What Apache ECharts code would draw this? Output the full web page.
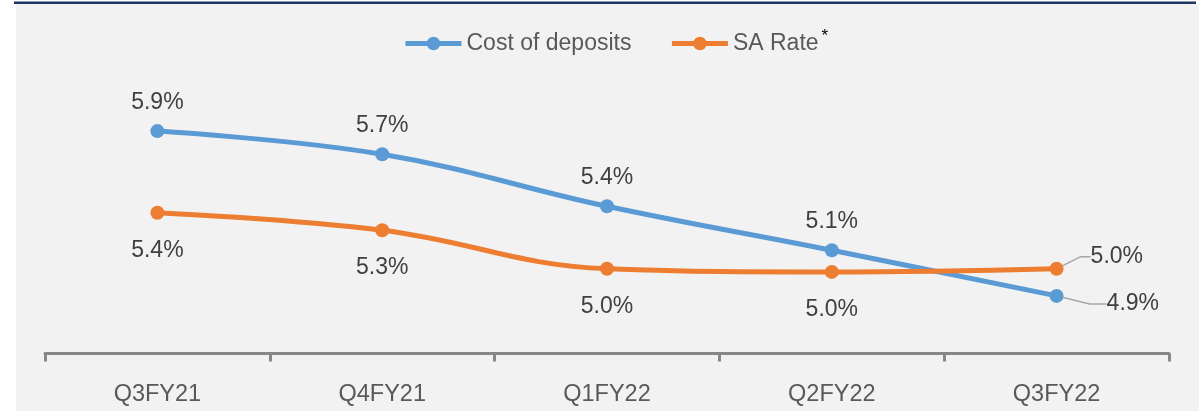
<!DOCTYPE html>
<html>
<head>
<meta charset="utf-8">
<script src="https://cdn.jsdelivr.net/npm/echarts@6/dist/echarts.min.js"></script>
<style>
  html, body { margin: 0; padding: 0; background: #ffffff; }
  #deposit-chart { width: 1199px; height: 411px; }
</style>
</head>
<body>
<div id="deposit-chart"></div>
<script>
// quarters on the x axis
var quarters = ['Q3FY21', 'Q4FY21', 'Q1FY22', 'Q2FY22', 'Q3FY22'];
// % values (labels show one decimal)
var costOfDeposits = [5.89, 5.745, 5.42, 5.145, 4.86];
var saRate = [5.38, 5.27, 5.03, 5.01, 5.03];

var FONT = 'Liberation Sans, Arial, sans-serif';
var lastIdx = quarters.length - 1;

var chart = echarts.init(document.getElementById('deposit-chart'));

function pct(p) {
  return p.value.toFixed(1) + '%';
}

// only the last point gets a leader line to its label
function withLeader(values) {
  return values.map(function (v, i) {
    return { value: v, labelLine: { show: i === lastIdx } };
  });
}

chart.setOption({
  animation: false,
  backgroundColor: '#ffffff',
  graphic: [
    { type: 'rect', z: -10, shape: { x: 16, y: 4, width: 1183, height: 407 }, style: { fill: '#f2f2f2' } },
    { type: 'rect', z: -9, shape: { x: 14, y: 1.5, width: 1182, height: 2.5 }, style: { fill: '#1f3864' } }
  ],
  legend: {
    data: ['Cost of deposits', 'SA Rate'],
    left: 398,
    top: 23,
    itemWidth: 56,
    itemHeight: 17,
    itemGap: 38,
    lineStyle: { width: 5 },
    formatter: function (name) {
      return name === 'SA Rate' ? '{t|SA Rate}{s|*}' : '{t|' + name + '}';
    },
    textStyle: {
      rich: {
        t: { fontFamily: FONT, fontSize: 23, color: '#595959' },
        s: { fontFamily: FONT, fontSize: 17, color: '#000000', verticalAlign: 'top', padding: [0, 0, 14, 3] }
      }
    }
  },
  grid: {
    left: 45,
    right: 30,
    top: 33.5,
    bottom: 57.5
  },
  xAxis: {
    type: 'category',
    data: quarters,
    boundaryGap: true,
    axisLine: { lineStyle: { color: '#878787', width: 3 } },
    axisTick: { show: true, length: 8, lineStyle: { color: '#878787', width: 3 } },
    axisLabel: { margin: 29, fontFamily: FONT, fontSize: 23.5, color: '#595959' }
  },
  yAxis: {
    type: 'value',
    min: 4.5,
    max: 6.5,
    show: false,
    splitLine: { show: false }
  },
  series: [
    {
      name: 'Cost of deposits',
      type: 'line',
      data: withLeader(costOfDeposits),
      smooth: 0.4,
      symbol: 'circle',
      symbolSize: 14,
      itemStyle: { color: '#5b9bd5' },
      lineStyle: { color: '#5b9bd5', width: 5 },
      label: {
        show: true,
        position: 'top',
        distance: 10,
        padding: [0, 8],
        formatter: pct,
        fontFamily: FONT,
        fontSize: 23,
        color: '#404040'
      },
      labelLine: { length2: 17, lineStyle: { color: '#a6a6a6', width: 1.5 } },
      labelLayout: function (p) {
        if (p.dataIndex !== lastIdx) return {};
        var cx = p.rect.x + p.rect.width / 2;
        var cy = p.rect.y + p.rect.height / 2;
        return { x: cx + 42, y: cy + 8, align: 'left', verticalAlign: 'middle' };
      }
    },
    {
      name: 'SA Rate',
      type: 'line',
      data: withLeader(saRate),
      smooth: 0.4,
      symbol: 'circle',
      symbolSize: 14,
      itemStyle: { color: '#ed7d31' },
      lineStyle: { color: '#ed7d31', width: 5 },
      label: {
        show: true,
        position: 'bottom',
        distance: 19,
        padding: [0, 8],
        formatter: pct,
        fontFamily: FONT,
        fontSize: 23,
        color: '#404040'
      },
      labelLine: { length2: 10, lineStyle: { color: '#a6a6a6', width: 1.5 } },
      labelLayout: function (p) {
        if (p.dataIndex !== lastIdx) return {};
        var cx = p.rect.x + p.rect.width / 2;
        var cy = p.rect.y + p.rect.height / 2;
        return { x: cx + 26, y: cy - 12, align: 'left', verticalAlign: 'middle' };
      }
    }
  ]
});
</script>
</body>
</html>
